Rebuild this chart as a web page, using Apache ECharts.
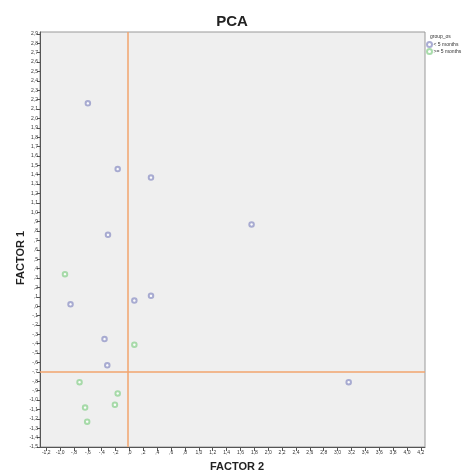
<!DOCTYPE html>
<html>
<head>
<meta charset="utf-8">
<script src="https://cdn.jsdelivr.net/npm/echarts@6/dist/echarts.min.js"></script>
<style>html,body{margin:0;padding:0;background:#fff}#c{width:464px;height:475px}</style>
</head>
<body>
<div id="c"></div>
<script>
// Data: [FACTOR 2, FACTOR 1]
var groupLt5 = [
  [-0.60, 2.16], [-0.17, 1.46], [0.31, 1.37], [1.76, 0.87], [-0.31, 0.76],
  [0.07, 0.06], [0.31, 0.11], [-0.85, 0.02], [-0.36, -0.35], [-0.32, -0.63],
  [3.16, -0.81]
];
var groupGe5 = [
  [-0.93, 0.34], [0.07, -0.41], [-0.72, -0.81], [-0.17, -0.93],
  [-0.21, -1.05], [-0.64, -1.08], [-0.61, -1.23]
];
var refX = -0.02;
var refY = -0.70;
var xTicks = [-1.2, -1.0, -0.8, -0.6, -0.4, -0.2, 0.0, 0.2, 0.4, 0.6, 0.8, 1.0, 1.2, 1.4, 1.6, 1.8,
  2.0, 2.2, 2.4, 2.6, 2.8, 3.0, 3.2, 3.4, 3.6, 3.8, 4.0, 4.2];
var yTicks = [-1.5, -1.4, -1.3, -1.2, -1.1, -1.0, -0.9, -0.8, -0.7, -0.6, -0.5, -0.4, -0.3, -0.2, -0.1,
  0.0, 0.1, 0.2, 0.3, 0.4, 0.5, 0.6, 0.7, 0.8, 0.9, 1.0, 1.1, 1.2, 1.3, 1.4, 1.5, 1.6, 1.7, 1.8, 1.9,
  2.0, 2.1, 2.2, 2.3, 2.4, 2.5, 2.6, 2.7, 2.8, 2.9];
var seriesNames = ['< 5 months', '>= 5 months'];

function fmt(v) {
  var a = Math.abs(v);
  var s = a.toFixed(1).replace('.', ',');
  if (s.charAt(0) === '0') s = s.slice(1);
  var neg = v < 0 && a >= 0.05;
  return (neg ? '-' : '') + s;
}

var chart = echarts.init(document.getElementById('c'));
var axisCol = '#555';
chart.setOption({
  backgroundColor: '#fff',
  animation: false,
  title: {
    text: 'PCA', left: 'center', top: 9,
    textStyle: { fontFamily: 'Liberation Sans, Arial', fontWeight: 'bold', fontSize: 15, color: '#222' }
  },
  grid: {
    left: 40, right: 39, top: 32, bottom: 28,
    show: true, backgroundColor: '#efefef', borderColor: '#999', borderWidth: 1
  },
  legend: {
    orient: 'vertical', left: 426, top: 41, itemGap: 0, padding: 0,
    itemWidth: 6, itemHeight: 5,
    textStyle: { fontSize: 5, color: '#333', fontFamily: 'Liberation Sans, Arial', padding: [0, 0, 0, -4] },
    data: seriesNames
  },
  graphic: [
    { type: 'text', left: 430, top: 34, style: { text: 'group_os', fontSize: 5, fill: '#333', fontFamily: 'Liberation Sans, Arial' } },
    { type: 'text', x: 21, y: 258, rotation: Math.PI / 2, style: { text: 'FACTOR 1', fontSize: 11, fontWeight: 'bold', fill: '#222', fontFamily: 'Liberation Sans, Arial', align: 'center', verticalAlign: 'middle' } },
    { type: 'text', x: 237, y: 467, style: { text: 'FACTOR 2', fontSize: 11, fontWeight: 'bold', fill: '#222', fontFamily: 'Liberation Sans, Arial', align: 'center', verticalAlign: 'middle' } }
  ],
  xAxis: {
    type: 'value', min: -1.29, max: 4.26,
    splitLine: { show: false },
    axisLine: { show: true, onZero: false, lineStyle: { color: axisCol } },
    axisTick: { show: true, length: 4, customValues: xTicks, lineStyle: { color: axisCol } },
    axisLabel: { customValues: xTicks, formatter: fmt, fontSize: 5, color: '#333', margin: 3, fontFamily: 'Liberation Sans, Arial' }
  },
  yAxis: {
    type: 'value', min: -1.5, max: 2.92,
    splitLine: { show: false },
    axisLine: { show: true, onZero: false, lineStyle: { color: axisCol } },
    axisTick: { show: true, length: 3, customValues: yTicks, lineStyle: { color: axisCol } },
    axisLabel: { customValues: yTicks, formatter: fmt, fontSize: 5, color: '#333', margin: 2, fontFamily: 'Liberation Sans, Arial' }
  },
  series: [
    {
      name: seriesNames[0], type: 'scatter', data: groupLt5,
      symbol: 'emptyCircle', symbolSize: 4.5,
      itemStyle: { color: '#9598c8', borderColor: '#9598c8', borderWidth: 1.2 },
      markLine: {
        silent: true, symbol: 'none', label: { show: false },
        lineStyle: { color: '#f2a46e', width: 1.5, type: 'solid' },
        data: [{ xAxis: refX }, { yAxis: refY }]
      },
      z: 3
    },
    {
      name: seriesNames[1], type: 'scatter', data: groupGe5,
      symbol: 'emptyCircle', symbolSize: 4.5,
      itemStyle: { color: '#94d396', borderColor: '#94d396', borderWidth: 1.2 },
      z: 3
    }
  ]
});
</script>
</body>
</html>
